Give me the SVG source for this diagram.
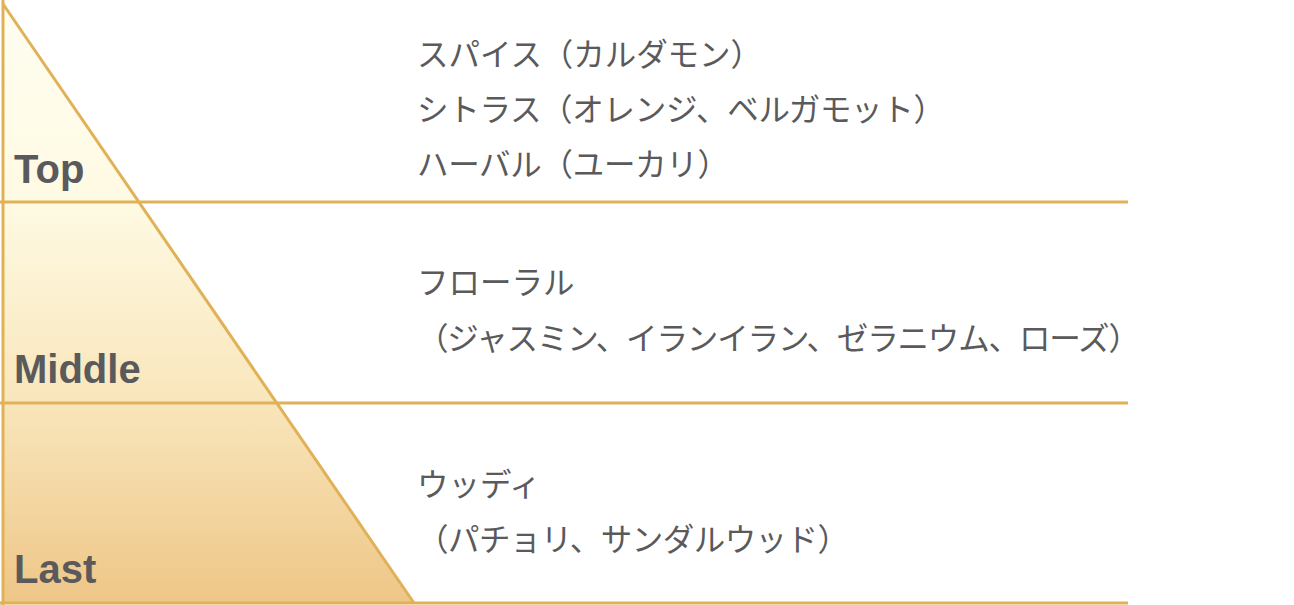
<svg xmlns="http://www.w3.org/2000/svg" width="1294" height="605" viewBox="0 0 1294 605">
  <defs>
    <linearGradient id="pyrFill" x1="0" y1="0" x2="0" y2="1">
      <stop offset="0" stop-color="#fffdf0"/>
      <stop offset="0.33" stop-color="#fefae3"/>
      <stop offset="0.66" stop-color="#f9e6bc"/>
      <stop offset="1" stop-color="#eec687"/>
    </linearGradient>
    <style>
      .rule { stroke: #e0b157; stroke-width: 3; fill: none; }
      .label { font-family: "Liberation Sans", Arial, sans-serif; font-weight: bold; font-size: 40px; fill: #5a5a5c; }
      .note { font-family: "Noto Sans CJK JP", "Noto Sans", sans-serif; font-size: 31.5px; fill: #5a5a5c; }
    </style>
  </defs>
  <rect x="0" y="0" width="1294" height="605" fill="#ffffff"/>
  <g id="pyramid">
    <polygon points="3,4 414,603 3,603" fill="url(#pyrFill)"/>
    <line class="rule" x1="3" y1="4" x2="414" y2="603"/>
    <line class="rule" x1="3" y1="0" x2="3" y2="605"/>
  </g>
  <g id="connectors">
    <line class="rule" x1="0" y1="202" x2="1128" y2="202"/>
    <line class="rule" x1="0" y1="403" x2="1128" y2="403"/>
    <line class="rule" x1="0" y1="603" x2="1128" y2="603" stroke-width="4"/>
  </g>
  <g id="top">
    <text class="label" x="14" y="183">Top</text>
    <text class="note" x="417" y="66" textLength="345" lengthAdjust="spacing">スパイス（カルダモン）</text>
    <text class="note" x="417" y="121" textLength="528" lengthAdjust="spacing">シトラス（オレンジ、ベルガモット）</text>
    <text class="note" x="417" y="176" textLength="312" lengthAdjust="spacing">ハーバル（ユーカリ）</text>
  </g>
  <g id="middle">
    <text class="label" x="14" y="383">Middle</text>
    <text class="note" x="417" y="294">フローラル</text>
    <text class="note" x="417" y="350" textLength="723" lengthAdjust="spacing">（ジャスミン、イランイラン、ゼラニウム、ローズ）</text>
  </g>
  <g id="last">
    <text class="label" x="14" y="583">Last</text>
    <text class="note" x="417" y="496">ウッディ</text>
    <text class="note" x="417" y="551" textLength="432" lengthAdjust="spacing">（パチョリ、サンダルウッド）</text>
  </g>
</svg>
